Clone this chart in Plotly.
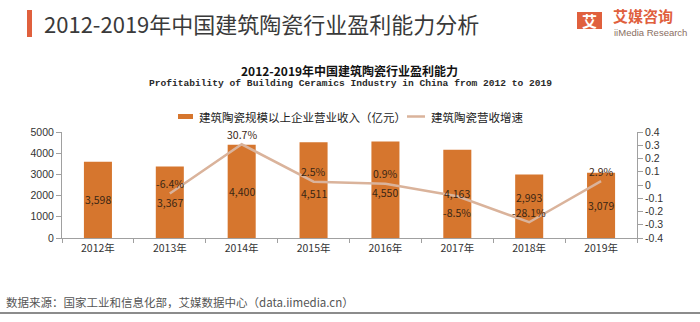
import plotly.graph_objects as go

# ---- data ----
years = ["2012年", "2013年", "2014年", "2015年", "2016年", "2017年", "2018年", "2019年"]
revenue = [3598, 3367, 4400, 4511, 4550, 4163, 2993, 3079]          # 亿元
growth_years = ["2013年", "2014年", "2015年", "2016年", "2017年", "2018年", "2019年"]
growth = [-0.064, 0.307, 0.025, 0.009, -0.085, -0.281, 0.029]
left_ticks = [0, 1000, 2000, 3000, 4000, 5000]
right_ticks = [-0.4, -0.3, -0.2, -0.1, 0, 0.1, 0.2, 0.3, 0.4]
right_tick_text = ["-0.4", "-0.3", "-0.2", "-0.1", "0", "0.1", "0.2", "0.3", "0.4"]

# label nudges in pixels (positive = up)
bar_label_dy = [0, 0, 0, -3, -3, 0, 9, 0]
growth_label_dy = [10, 10, 10, 10, -16, 10, 10]

BAR = "#D6762E"
LINE = "#DAB39B"
ACCENT = "#E0603D"
CJK = "Noto Sans CJK SC"

W, H = 700, 322
L, R, T, B = 62, 637, 132, 238


def px(x):
    return (x - L) / (R - L)


def py(y):
    return (B - y) / (B - T)


fig = go.Figure()
fig.add_bar(x=years, y=revenue, width=0.39, marker=dict(color=BAR, line=dict(width=0)),
            name="建筑陶瓷规模以上企业营业收入（亿元）", showlegend=False)
fig.add_scatter(x=growth_years, y=growth, yaxis="y2", mode="lines",
                line=dict(color=LINE, width=2.5), name="建筑陶瓷营收增速", showlegend=False)

ann = []
for cat, v, dy in zip(years, revenue, bar_label_dy):
    ann.append(dict(x=cat, y=v / 2, xref="x", yref="y", text=f"{v:,}", showarrow=False,
                    yshift=dy, font=dict(family=CJK, size=10.5, color="#3a2614")))
for cat, g, dy in zip(growth_years, growth, growth_label_dy):
    ann.append(dict(x=cat, y=g, xref="x", yref="y2", text=f"{g*100:.1f}%", showarrow=False,
                    yshift=dy, font=dict(family=CJK, size=10.5, color="#3a2614")))

# header
ann.append(dict(x=px(42), y=py(23), xref="paper", yref="paper", xanchor="left", yanchor="middle",
                text="2012-2019年中国建筑陶瓷行业盈利能力分析", showarrow=False,
                font=dict(family=CJK, size=22, color="#3a3a3a")))
ann.append(dict(x=px(589.5), y=py(20.5), xref="paper", yref="paper", xanchor="center", yanchor="middle",
                text="<b>艾</b>", showarrow=False, font=dict(family=CJK, size=15, color="white")))
ann.append(dict(x=px(611), y=py(15), xref="paper", yref="paper", xanchor="left", yanchor="middle",
                text="<b>艾媒咨询</b>", showarrow=False, font=dict(family=CJK, size=15, color=ACCENT)))
ann.append(dict(x=px(612), y=py(32), xref="paper", yref="paper", xanchor="left", yanchor="middle",
                text="iiMedia Research", showarrow=False,
                font=dict(family="Liberation Sans", size=9.5, color="#8a6e62")))

# chart titles
ann.append(dict(x=0.5, y=py(70), xref="paper", yref="paper", xanchor="center", yanchor="middle",
                text="<b>2012-2019年中国建筑陶瓷行业盈利能力</b>", showarrow=False,
                font=dict(family=CJK, size=12, color="#111111")))
ann.append(dict(x=px(350), y=py(83), xref="paper", yref="paper", xanchor="center", yanchor="middle",
                text="<b>Profitability of Building Ceramics Industry in China from 2012 to 2019</b>",
                showarrow=False, font=dict(family="Liberation Mono", size=9.6, color="#2a2a2a")))

# legend
ann.append(dict(x=px(197), y=py(116.5), xref="paper", yref="paper", xanchor="left", yanchor="middle",
                text="建筑陶瓷规模以上企业营业收入（亿元）", showarrow=False,
                font=dict(family=CJK, size=11.5, color="#222222")))
ann.append(dict(x=px(429), y=py(116.5), xref="paper", yref="paper", xanchor="left", yanchor="middle",
                text="建筑陶瓷营收增速", showarrow=False,
                font=dict(family=CJK, size=11.5, color="#222222")))

# footer
ann.append(dict(x=px(4), y=py(302), xref="paper", yref="paper", xanchor="left", yanchor="middle",
                text="数据来源：国家工业和信息化部，艾媒数据中心（data.iimedia.cn）", showarrow=False,
                font=dict(family=CJK, size=11.5, color="#555555")))

shapes = [
    dict(type="rect", xref="paper", yref="paper", x0=px(27), x1=px(32), y0=py(10), y1=py(37),
         fillcolor=ACCENT, line=dict(width=0)),
    dict(type="rect", xref="paper", yref="paper", x0=px(577), x1=px(602), y0=py(12), y1=py(29),
         fillcolor=ACCENT, line=dict(width=0)),
    dict(type="rect", xref="paper", yref="paper", x0=px(178), x1=px(193), y0=py(114), y1=py(119),
         fillcolor=BAR, line=dict(width=0)),
    dict(type="line", xref="paper", yref="paper", x0=px(407), x1=px(425), y0=py(116.5), y1=py(116.5),
         line=dict(color=LINE, width=2.5)),
    dict(type="line", xref="paper", yref="paper", x0=px(0), x1=px(700), y0=py(313), y1=py(313),
         line=dict(color="#666666", width=1.5)),
]

axis_font = dict(family="Liberation Sans", size=10.5, color="#333333")
fig.update_layout(
    width=W, height=H, margin=dict(l=L, r=W - R, t=T, b=H - B),
    paper_bgcolor="white", plot_bgcolor="white", showlegend=False,
    annotations=ann, shapes=shapes,
    xaxis=dict(showline=True, linecolor="#A0A0A0", linewidth=1, ticks="outside", tickson="boundaries",
               ticklen=4, tickcolor="#A0A0A0", showgrid=False,
               tickfont=dict(family=CJK, size=10.5, color="#333333")),
    yaxis=dict(range=[0, 5000], tickvals=left_ticks, showline=True, linecolor="#A0A0A0",
               ticks="outside", ticklen=5, tickcolor="#A0A0A0", showgrid=False, zeroline=False,
               tickfont=axis_font),
    yaxis2=dict(range=[-0.4, 0.4], overlaying="y", side="right", tickvals=right_ticks,
                ticktext=right_tick_text, showline=True, linecolor="#A0A0A0", ticks="outside",
                ticklen=5, tickcolor="#A0A0A0", showgrid=False, zeroline=False, tickfont=axis_font),
    bargap=0.6,
)

fig.write_html("out.html")
